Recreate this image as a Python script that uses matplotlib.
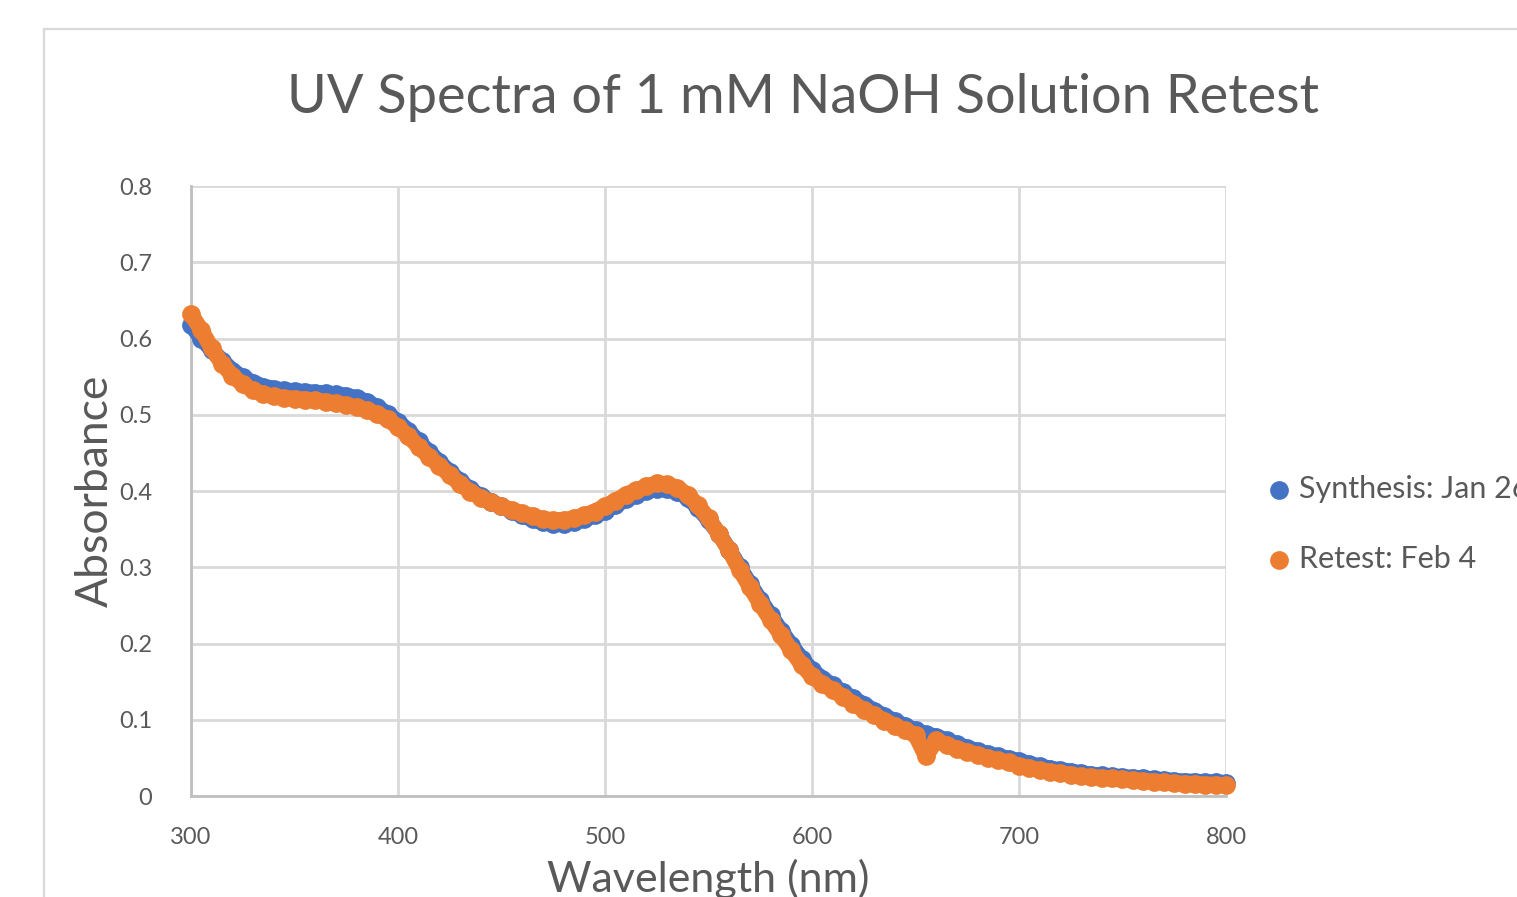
import matplotlib
matplotlib.use("Agg")
import matplotlib.pyplot as plt
from matplotlib.patches import Rectangle

plt.rcParams['font.family'] = ['Lato', 'DejaVu Sans']

# wavelength grid (nm)
wavelength = list(range(300, 801, 5))

# absorbance, first synthesis (Jan 26)
synthesis_jan26 = [
    0.618, 0.600, 0.585, 0.571, 0.558, 0.549, 0.542, 0.537, 0.534, 0.532,
    0.531, 0.530, 0.529, 0.528, 0.527, 0.525, 0.522, 0.517, 0.510, 0.501,
    0.491, 0.479, 0.465, 0.451, 0.438, 0.425, 0.413, 0.402, 0.393, 0.386,
    0.380, 0.374, 0.368, 0.363, 0.359, 0.357, 0.357, 0.359, 0.363, 0.368,
    0.374, 0.381, 0.389, 0.395, 0.400, 0.403, 0.403, 0.399, 0.391, 0.378,
    0.362, 0.344, 0.323, 0.300, 0.278, 0.257, 0.237, 0.217, 0.198, 0.180,
    0.165, 0.154, 0.145, 0.136, 0.128, 0.120, 0.112, 0.105, 0.098, 0.092,
    0.086, 0.081, 0.078, 0.073, 0.068, 0.063, 0.059, 0.055, 0.052, 0.049,
    0.046, 0.042, 0.039, 0.036, 0.034, 0.032, 0.030, 0.028, 0.027, 0.026,
    0.025, 0.024, 0.023, 0.022, 0.021, 0.020, 0.019, 0.019, 0.018, 0.018,
    0.017,
]

# absorbance, retest (Feb 4)
retest_feb4 = [
    0.632, 0.611, 0.587, 0.567, 0.551, 0.540, 0.532, 0.527, 0.524, 0.522,
    0.521, 0.520, 0.519, 0.517, 0.515, 0.513, 0.510, 0.506, 0.501, 0.494,
    0.484, 0.472, 0.458, 0.445, 0.433, 0.421, 0.409, 0.399, 0.391, 0.385,
    0.380, 0.375, 0.371, 0.367, 0.363, 0.362, 0.362, 0.364, 0.368, 0.373,
    0.380, 0.387, 0.395, 0.401, 0.406, 0.410, 0.409, 0.404, 0.395, 0.381,
    0.364, 0.344, 0.322, 0.297, 0.274, 0.252, 0.231, 0.211, 0.191, 0.172,
    0.157, 0.147, 0.139, 0.130, 0.121, 0.113, 0.106, 0.099, 0.092, 0.086,
    0.080, 0.052, 0.073, 0.067, 0.062, 0.058, 0.054, 0.050, 0.047, 0.044,
    0.040, 0.037, 0.034, 0.032, 0.030, 0.028, 0.026, 0.025, 0.024, 0.023,
    0.022, 0.021, 0.020, 0.019, 0.018, 0.017, 0.016, 0.016, 0.015, 0.015,
    0.014,
]

x_ticks = [300, 400, 500, 600, 700, 800]
y_ticks = [0, 0.1, 0.2, 0.3, 0.4, 0.5, 0.6, 0.7, 0.8]
y_tick_labels = ['0', '0.1', '0.2', '0.3', '0.4', '0.5', '0.6', '0.7', '0.8']

BLUE = '#4472C4'
ORANGE = '#ED7D31'
TEXT = '#595959'
GRID = '#d9d9d9'
DOT = 13.5  # marker diameter, points

W, H = 1517, 897
fig = plt.figure(figsize=(W / 100, H / 100), dpi=100)

# chart-area border (runs off the right and bottom edges)
fig.patches.append(Rectangle((44 / W, -0.1), 1.2, (897 - 29) / H + 0.1,
                             transform=fig.transFigure, fill=False,
                             edgecolor=GRID, linewidth=1.6))

ax = fig.add_axes([191 / W, (H - 796) / H, (1226 - 191) / W, (796 - 186) / H])
ax.set_xlim(300, 800)
ax.set_ylim(0, 0.8)

# dense markers merge into a thick band; a wide line underneath fills the gaps
for y, color, label, z in ((synthesis_jan26, BLUE, 'Synthesis: Jan 26', 3),
                           (retest_feb4, ORANGE, 'Retest: Feb 4', 5)):
    ax.plot(wavelength, y, color=color, linewidth=DOT * 0.85,
            solid_capstyle='round', solid_joinstyle='round',
            zorder=z, clip_on=False)
    ax.scatter(wavelength, y, s=DOT ** 2, color=color, linewidths=0,
               label=label, zorder=z + 0.5, clip_on=False)

ax.set_xticks(x_ticks)
ax.set_yticks(y_ticks)
ax.set_yticklabels(y_tick_labels)
ax.tick_params(length=0, labelsize=17, labelcolor=TEXT)
ax.tick_params(axis='y', pad=28)
ax.tick_params(axis='x', pad=22)
ax.grid(True, color=GRID, linewidth=2)
ax.set_axisbelow(True)
for side in ('top', 'right'):
    ax.spines[side].set_visible(False)
for side in ('left', 'bottom'):
    ax.spines[side].set_color('#bfbfbf')
    ax.spines[side].set_linewidth(2)

ax.set_xlabel('Wavelength (nm)', fontsize=31, color=TEXT, labelpad=8)
ax.set_ylabel('Absorbance', fontsize=32, color=TEXT, labelpad=2)

fig.text(803 / W, 1 - 98 / H, 'UV Spectra of 1 mM NaOH Solution Retest',
         ha='center', va='center', fontsize=39, color=TEXT)

leg = ax.legend(loc='center left', bbox_to_anchor=(1267 / W, 1 - 524 / H),
                bbox_transform=fig.transFigure, frameon=False, fontsize=22,
                labelcolor=TEXT, handlelength=0.8, handletextpad=0.25,
                labelspacing=1.4, borderpad=0, borderaxespad=0)

fig.savefig('out.png', dpi=100)
